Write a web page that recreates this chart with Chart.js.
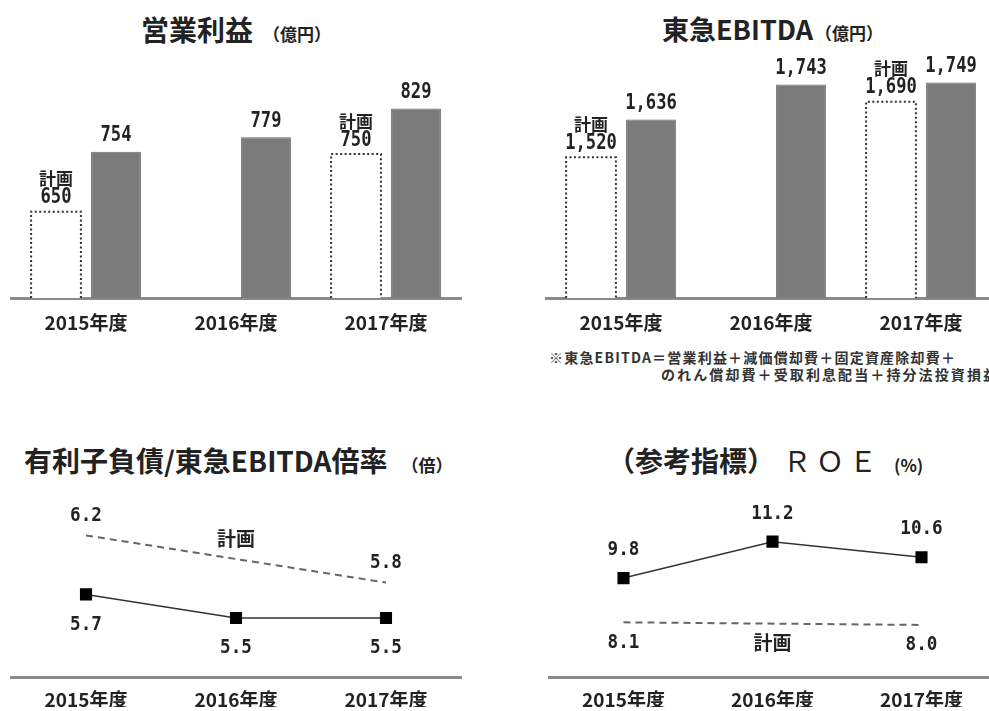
<!DOCTYPE html>
<html lang="ja">
<head>
  <meta charset="UTF-8" />
  <title>経営指標</title>
  <script src="https://cdn.jsdelivr.net/npm/chart.js"></script>
  <style>
    body {
      margin: 0;
      background: #fff;
      font-family: "Noto Sans CJK JP", sans-serif;
      color: #222;
    }
    .page {
      position: relative;
      width: 989px;
      height: 711px;
      overflow: hidden;
    }
    .page canvas {
      position: absolute;
    }
    .title {
      position: absolute;
      display: flex;
      align-items: baseline;
      white-space: nowrap;
      font-weight: bold;
      line-height: 1;
    }
    .title .unit {
      font-size: 17px;
    }
    .note {
      position: absolute;
      white-space: nowrap;
      font-size: 14px;
      font-weight: bold;
      letter-spacing: 1.2px;
      line-height: 1;
      color: #333;
    }
  </style>
</head>
<body>
  <div class="page">
    <div class="title" style="left:141px; top:15px; font-size:28px;">営業利益<span class="unit" style="margin-left:10px;">（億円）</span></div>
    <div class="title" style="left:662px; top:15px; font-size:27px;">東急EBITDA<span class="unit" style="margin-left:2px;">（億円）</span></div>
    <div class="title" style="left:24px; top:446px; font-size:28px;">有利子負債/東急EBITDA倍率<span class="unit" style="margin-left:14px;">（倍）</span></div>
    <div class="title" style="left:607px; top:446px; font-size:28px;">（参考指標）<span style="font-weight:normal; margin-left:8px; letter-spacing:5px;">ＲＯＥ</span><span class="unit" style="margin-left:12px;">(%)</span></div>
    <div class="note" style="left:549px; top:350px;">※東急EBITDA＝営業利益＋減価償却費＋固定資産除却費＋</div>
    <div class="note" style="left:661px; top:367px; letter-spacing:2.1px;">のれん償却費＋受取利息配当＋持分法投資損益</div>

    <canvas id="opChart" width="480" height="320" style="left:0; top:40px;"></canvas>
    <canvas id="ebitdaChart" width="470" height="320" style="left:540px; top:40px;"></canvas>
    <canvas id="debtChart" width="480" height="231" style="left:0; top:480px;"></canvas>
    <canvas id="roeChart" width="470" height="231" style="left:540px; top:480px;"></canvas>
  </div>

  <script>
    // data
    const years = ['2015年度', '2016年度', '2017年度'];
    const opPlan = [650, null, 750];
    const opActual = [754, 779, 829];
    const ebitdaPlan = [1520, null, 1690];
    const ebitdaActual = [1636, 1743, 1749];
    const debtPlan = [6.2, null, 5.8];
    const debtActual = [5.7, 5.5, 5.5];
    const roePlan = [8.1, null, 8.0];
    const roeActual = [9.8, 11.2, 10.6];

    Chart.defaults.font.family = '"Noto Sans CJK JP", sans-serif';
    Chart.defaults.color = '#222';

    const NUM_FONT = 'bold 22px "DejaVu Sans Mono", monospace';
    const LINE_NUM_FONT = 'bold 20px "DejaVu Sans Mono", monospace';

    function drawText(ctx, text, x, y, font, sx) {
      ctx.save();
      ctx.font = font;
      ctx.fillStyle = '#222';
      ctx.textAlign = 'center';
      ctx.textBaseline = 'middle';
      ctx.translate(x, y);
      ctx.scale(sx || 1, 1);
      ctx.fillText(text, 0, 0);
      ctx.restore();
    }

    // value labels + dotted outline of plan bars
    const valueLabels = {
      id: 'valueLabels',
      afterDatasetsDraw(chart, args, opts) {
        const ctx = chart.ctx;
        const bottom = chart.chartArea.bottom;
        chart.data.datasets.forEach((ds, i) => {
          const meta = chart.getDatasetMeta(i);
          meta.data.forEach((el, j) => {
            const v = ds.data[j];
            if (v == null) return;
            const txt = opts.format(v);
            if (meta.type === 'bar') {
              if (ds.kind === 'plan') {
                const left = el.x - el.width / 2;
                const right = el.x + el.width / 2;
                const base = Math.min(el.base, bottom);
                ctx.save();
                ctx.strokeStyle = '#333';
                ctx.lineWidth = 2;
                ctx.setLineDash([2, 2.5]);
                ctx.beginPath();
                ctx.moveTo(left, base);
                ctx.lineTo(left, el.y);
                ctx.lineTo(right, el.y);
                ctx.lineTo(right, base);
                ctx.stroke();
                ctx.restore();
                drawText(ctx, '計画', el.x, el.y - 33, 'bold 17px "Noto Sans CJK JP"');
                drawText(ctx, txt, el.x, el.y - 14, NUM_FONT, 0.78);
              } else {
                drawText(ctx, txt, el.x, el.y - 16, NUM_FONT, 0.78);
              }
            } else {
              const off = ds.kind === 'plan' ? opts.planOffset : opts.actualOffset;
              drawText(ctx, txt, el.x, el.y + off, LINE_NUM_FONT, 0.88);
            }
          });
          // "計画" note on the dashed line where the plan has no value
          if (meta.type === 'line' && ds.kind === 'plan') {
            ds.data.forEach((v, j) => {
              if (v != null || j === 0 || j === ds.data.length - 1) return;
              const a = meta.data[j - 1], b = meta.data[j + 1];
              const x = chart.scales.x.getPixelForValue(j);
              drawText(ctx, '計画', x, (a.y + b.y) / 2 + opts.noteOffset, 'bold 19px "Noto Sans CJK JP"');
            });
          }
        });
      }
    };

    function xAxis(height, pad) {
      return {
        offset: true,
        grid: { display: false, drawTicks: false },
        border: { display: true, color: '#8a8a8a', width: 3 },
        ticks: {
          color: '#222',
          padding: pad,
          font: { size: 19, weight: 'bold' }
        },
        afterFit(scale) { scale.height = height; }
      };
    }

    function barChart(id, plan, actual, min, max, pad) {
      return new Chart(document.getElementById(id), {
        type: 'bar',
        data: {
          labels: years,
          datasets: [
            { kind: 'plan', data: plan, backgroundColor: '#fff', borderWidth: 0 },
            { kind: 'actual', data: actual, backgroundColor: '#7b7b7b', borderColor: '#666', borderWidth: 1 }
          ]
        },
        options: {
          responsive: false,
          animation: false,
          categoryPercentage: 0.8,
          barPercentage: 0.83,
          layout: { padding: pad },
          plugins: {
            legend: { display: false },
            tooltip: { enabled: false },
            valueLabels: { format: v => v.toLocaleString('en-US') }
          },
          scales: {
            x: xAxis(40, 13),
            y: { display: false, min: min, max: max }
          }
        },
        plugins: [valueLabels]
      });
    }

    function lineChart(id, plan, actual, min, max, pad, offsets) {
      return new Chart(document.getElementById(id), {
        type: 'line',
        data: {
          labels: years,
          datasets: [
            {
              kind: 'plan', data: plan, spanGaps: true,
              borderColor: '#666', borderWidth: 2, borderDash: [7, 5],
              pointRadius: 0
            },
            {
              kind: 'actual', data: actual,
              borderColor: '#333', borderWidth: 1.5,
              pointStyle: 'rect', pointRadius: 7.5,
              pointBackgroundColor: '#000', pointBorderColor: '#000'
            }
          ]
        },
        options: {
          responsive: false,
          animation: false,
          layout: { padding: pad },
          plugins: {
            legend: { display: false },
            tooltip: { enabled: false },
            valueLabels: Object.assign({ format: v => v.toFixed(1) }, offsets)
          },
          scales: {
            x: xAxis(30, 11),
            y: { display: false, min: min, max: max }
          }
        },
        plugins: [valueLabels]
      });
    }

    barChart('opChart', opPlan, opActual, 500, 896, { left: 11, right: 19, top: 30, bottom: 22 });
    barChart('ebitdaChart', ebitdaPlan, ebitdaActual, 1090, 1787, { left: 6, right: 14, top: 30, bottom: 22 });
    lineChart('debtChart', debtPlan, debtActual, 5.0, 6.5,
      { left: 11, right: 19, top: 20, bottom: 4 },
      { planOffset: -20, actualOffset: 30, noteOffset: -20 });
    lineChart('roeChart', roePlan, roeActual, 6.0, 12.8,
      { left: 6, right: 14, top: 20, bottom: 4 },
      { planOffset: 20, actualOffset: -28, noteOffset: 19 });
  </script>
</body>
</html>
